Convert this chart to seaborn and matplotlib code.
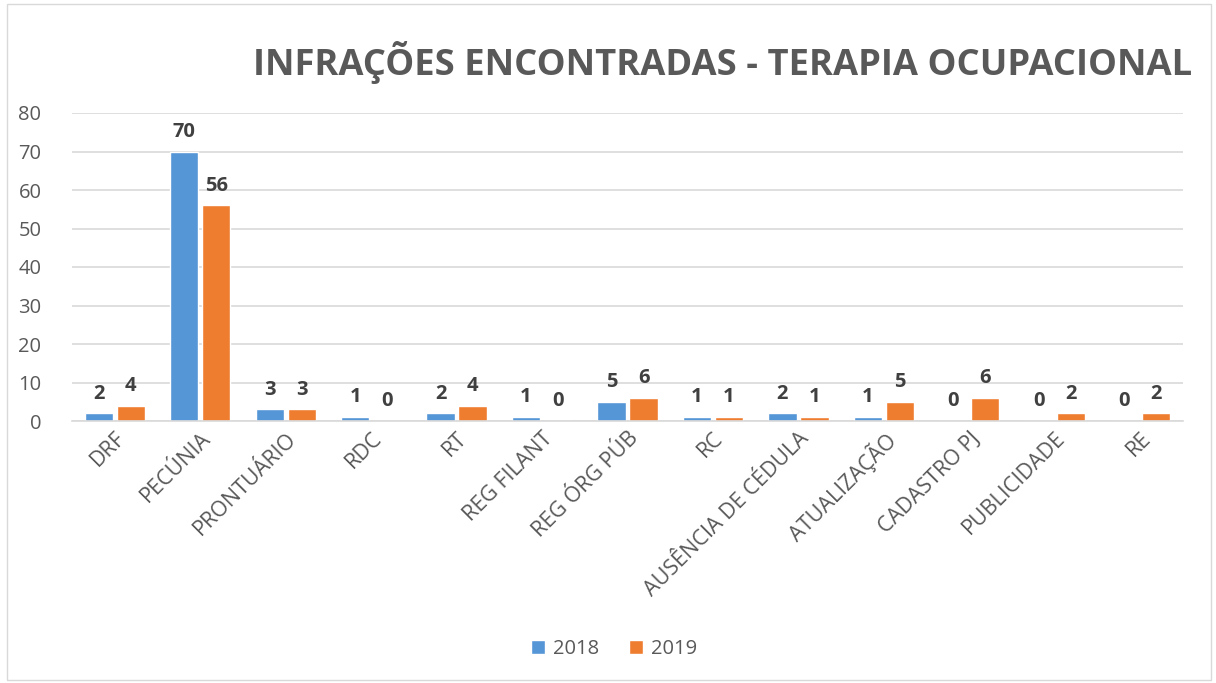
import numpy as np
import pandas as pd
import matplotlib
matplotlib.use("Agg")
import matplotlib.pyplot as plt
import seaborn as sns
from matplotlib.patches import Rectangle

categorias = ["DRF", "PECÚNIA", "PRONTUÁRIO", "RDC", "RT", "REG FILANT", "REG ÓRG PÚB",
              "RC", "AUSÊNCIA DE CÉDULA", "ATUALIZAÇÃO", "CADASTRO PJ", "PUBLICIDADE", "RE"]
valores_2018 = [2, 70, 3, 1, 2, 1, 5, 1, 2, 1, 0, 0, 0]
valores_2019 = [4, 56, 3, 0, 4, 0, 6, 1, 1, 5, 6, 2, 2]
anos = ["2018", "2019"]

sns.set_theme(style="white")
plt.rcParams['font.family'] = ['Open Sans', 'DejaVu Sans']

df = pd.DataFrame({
    "categoria": categorias * 2,
    "ano": [anos[0]] * len(categorias) + [anos[1]] * len(categorias),
    "valor": valores_2018 + valores_2019,
})

cinza = "#595959"
fig = plt.figure(figsize=(12.16, 6.83), dpi=100)
ax = fig.add_axes([72 / 1216, 1 - 421 / 683, 1111 / 1216, 308 / 683])

sns.barplot(data=df, x="categoria", y="valor", hue="ano", order=categorias, hue_order=anos,
            palette=["#5596D6", "#EE7D30"], saturation=1, width=0.75, gap=0.12, ax=ax, legend=True)

# rótulos de dados
for cont in ax.containers:
    for barra in cont:
        h = barra.get_height()
        ax.annotate("%d" % h, (barra.get_x() + barra.get_width() / 2, h),
                    xytext=(0, 7), textcoords="offset points", ha="center", va="bottom",
                    fontsize=14.5, fontweight="bold", color="#404040")

ax.set_ylim(0, 80)
ax.set_xlim(-0.5, len(categorias) - 0.5)
ax.set_yticks(range(0, 81, 10))
ax.yaxis.grid(True, color="#D9D9D9", linewidth=1.2)
ax.set_axisbelow(True)
for s in ["top", "right", "left"]:
    ax.spines[s].set_visible(False)
ax.spines["bottom"].set_color("#D9D9D9")
ax.spines["bottom"].set_linewidth(1.2)
ax.set_xlabel("")
ax.set_ylabel("")
ax.tick_params(axis="y", length=0, labelsize=14.5, colors=cinza, pad=22)
ax.tick_params(axis="x", length=0, labelsize=15.5, colors=cinza, pad=5)
plt.setp(ax.get_xticklabels(), rotation=45, ha="right", va="top", rotation_mode="anchor")

leg = ax.legend(loc="center", ncol=2, frameon=False, fontsize=14.5, handlelength=0.7,
                handleheight=0.7, handletextpad=0.4, columnspacing=1.5, labelcolor=cinza)
leg.set_bbox_to_anchor((0.505, 1 - 649 / 683), transform=fig.transFigure)

fig.text(1192 / 1216, 1 - 62 / 683, "INFRAÇÕES ENCONTRADAS - TERAPIA OCUPACIONAL",
         ha="right", va="center", fontsize=26.2, fontweight="bold", color=cinza)

fig.patches.append(Rectangle((0.006, 0.004), 0.99, 0.99, transform=fig.transFigure,
                             fill=False, edgecolor="#D9D9D9", linewidth=1))

plt.savefig("out.png", dpi=100)
